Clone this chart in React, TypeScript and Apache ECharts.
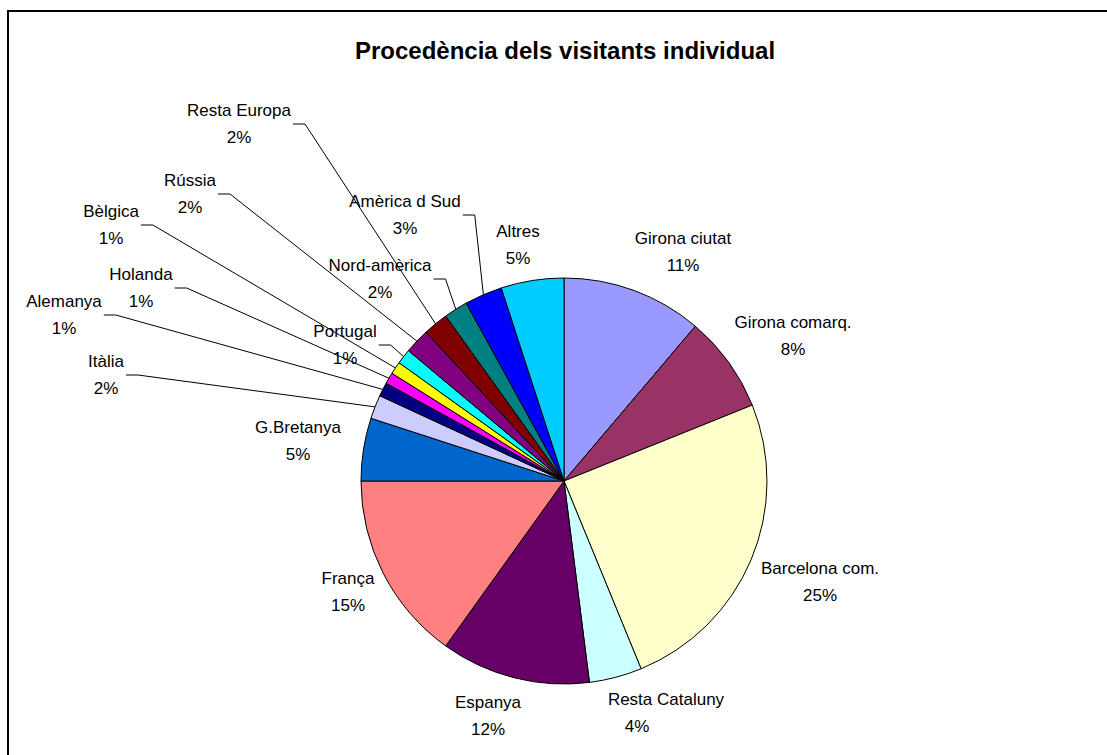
import React, { useEffect, useRef } from "react";
import * as echarts from "echarts";

// ---- data ----
const categories: string[] = [
  "Girona ciutat",
  "Girona comarq.",
  "Barcelona com.",
  "Resta Cataluny",
  "Espanya",
  "França",
  "G.Bretanya",
  "Itàlia",
  "Alemanya",
  "Holanda",
  "Bèlgica",
  "Portugal",
  "Rússia",
  "Resta Europa",
  "Nord-amèrica",
  "Amèrica d Sud",
  "Altres",
];
const shares: number[] = [11.2, 7.7, 24.9, 4.2, 11.9, 15.1, 5.0, 1.9, 1.1, 0.9, 1.0, 1.2, 2.0, 2.0, 1.9, 3.0, 5.0];
const titleText = "Procedència dels visitants individual";

// ---- styles / layout ----
const colors: string[] = [
  "#9999FF", "#993366", "#FFFFCC", "#CCFFFF", "#660066", "#FF8080", "#0066CC", "#CCCCFF",
  "#000080", "#FF00FF", "#FFFF00", "#00FFFF", "#800080", "#800000", "#008080", "#0000FF", "#00CCFF",
];
// label block centre, leader line?, right padding of the percent line
const labelPlacement: [number, number, boolean, number][] = [
  [683, 252, false, 0],
  [793, 336, false, 0],
  [820, 582, false, 0],
  [666, 713, false, 58],
  [488, 716, false, 0],
  [348, 592, false, 0],
  [298, 441, false, 0],
  [106, 375, true, 0],
  [64, 315, true, 0],
  [141, 288, true, 0],
  [111, 225, true, 0],
  [345, 345, true, 0],
  [190, 194, true, 0],
  [239, 124, true, 0],
  [380, 279, true, 0],
  [405, 215, true, 0],
  [518, 245, false, 0],
];
const CX = 564;
const CY = 481;
const R = 203;
const LABEL_FONT = "'Liberation Sans', Arial, sans-serif";
const LABEL_SIZE = 17;

function arcMid(i: number): number[] {
  const total = shares.reduce((a, b) => a + b, 0);
  let cum = 0;
  for (let k = 0; k < i; k++) cum += shares[k];
  const frac = (cum + shares[i] / 2) / total;
  const a = ((90 - frac * 360) * Math.PI) / 180;
  return [CX + R * Math.cos(a), CY - R * Math.sin(a)];
}

export default function App() {
  const ref = useRef<HTMLDivElement>(null);
  useEffect(() => {
    if (!ref.current) return;
    const chart = echarts.init(ref.current, undefined, { renderer: "svg" });
    const data = categories.map((name, i) => ({
      name,
      value: shares[i],
      itemStyle: { color: colors[i] },
      labelLine: { show: labelPlacement[i][2] },
      label: labelPlacement[i][3]
        ? {
            rich: {
              p: {
                fontSize: LABEL_SIZE,
                lineHeight: 27,
                color: "#000",
                fontFamily: LABEL_FONT,
                padding: [0, labelPlacement[i][3], 0, 0],
              },
            },
          }
        : undefined,
    }));
    chart.setOption({
      animation: false,
      backgroundColor: "#ffffff",
      title: {
        text: titleText,
        left: 565,
        top: 38,
        textAlign: "center",
        padding: 0,
        textStyle: {
          fontFamily: "'Liberation Sans', Arial, sans-serif",
          fontWeight: "bold",
          fontSize: 24,
          color: "#000",
        },
      },
      graphic: [
        {
          type: "polyline",
          shape: { points: [[8, 760], [8, 11], [1110, 11]] },
          style: { stroke: "#000", lineWidth: 2, fill: null },
          silent: true,
        },
      ],
      series: [
        {
          type: "pie",
          center: [CX, CY],
          radius: R,
          startAngle: 90,
          clockwise: true,
          avoidLabelOverlap: false,
          emphasis: { disabled: true },
          itemStyle: { borderColor: "#000", borderWidth: 1 },
          label: {
            show: true,
            position: "outside",
            formatter: (p: any) => `{n|${p.name}}\n{p|${Math.round(p.percent)}%}`,
            rich: {
              n: { fontSize: LABEL_SIZE, lineHeight: 27, color: "#000", fontFamily: LABEL_FONT },
              p: { fontSize: LABEL_SIZE, lineHeight: 27, color: "#000", fontFamily: LABEL_FONT },
            },
          },
          labelLine: {
            show: true,
            smooth: false,
            lineStyle: { color: "#000", width: 1 },
          },
          labelLayout: (params: any) => {
            const i = params.dataIndex;
            const [x, y, line] = labelPlacement[i];
            const res: any = { x, y, align: "center", verticalAlign: "middle" };
            if (line) {
              const w = params.labelRect ? params.labelRect.width : 60;
              const right = x + w / 2;
              res.labelLinePoints = [arcMid(i), [right + 14, y], [right + 2, y]];
            }
            return res;
          },
          data,
        },
      ],
    });
    return () => chart.dispose();
  }, []);
  return (
    <div
      ref={ref}
      style={{ position: "fixed", left: 0, top: 0, width: 1107, height: 755, background: "#fff" }}
    />
  );
}
